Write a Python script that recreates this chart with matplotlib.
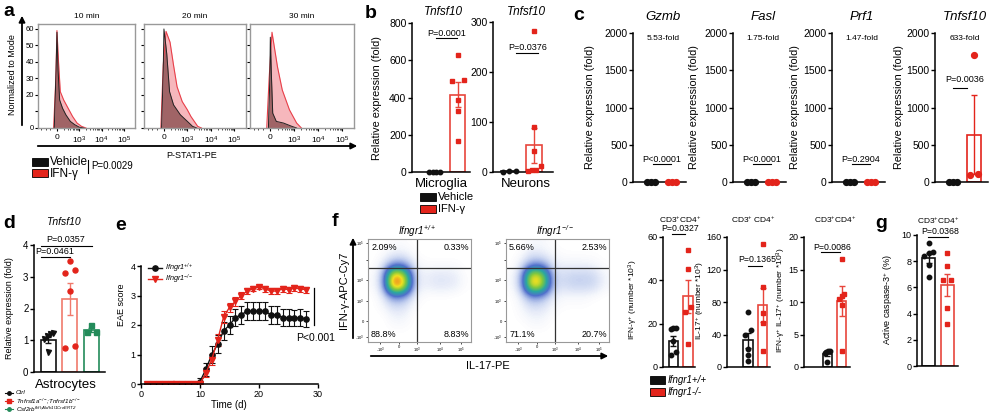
import matplotlib
matplotlib.use("Agg")
import matplotlib.pyplot as plt
import numpy as np
from matplotlib.lines import Line2D
from matplotlib.patches import Rectangle, FancyArrowPatch
from matplotlib.colors import LinearSegmentedColormap
from matplotlib.ticker import FixedLocator

plt.rcParams["font.family"] = ["Liberation Sans", "DejaVu Sans"]
plt.rcParams["mathtext.fontset"] = "custom"
plt.rcParams["mathtext.rm"] = "Liberation Sans"
plt.rcParams["mathtext.it"] = "Liberation Sans:italic"
plt.rcParams["mathtext.bf"] = "Liberation Sans:bold"
plt.rcParams["mathtext.default"] = "regular"

# ── data ──────────────────────────────────────────────────────────────────────
# a: P-STAT1 histograms (x in decade units, 0 = zero, 1 = 10^3 ...)
hist_times = ["10 min", "20 min", "30 min"]
veh_x = [[-0.12, -0.04, 0.0, 0.05, 0.12, 0.25, 0.4, 0.6, 0.8, 1.0, 1.2],
         [-0.1, -0.03, 0.0, 0.12, 0.24, 0.41, 0.7, 1.0, 1.22, 1.4],
         [-0.08, -0.02, 0.0, 0.05, 0.1, 0.25, 0.55, 0.9, 1.1]]
veh_y = [[0, 35, 58, 35, 17, 12, 8, 4, 2, 0.5, 0],
         [0, 35, 60, 45, 22, 14, 8, 4, 1, 0],
         [0, 30, 55, 30, 9, 4, 3, 1, 0]]
ifn_x = [[-0.15, -0.05, 0.0, 0.07, 0.15, 0.3, 0.5, 0.7, 0.9, 1.1, 1.3],
         [-0.13, -0.03, 0.09, 0.26, 0.41, 0.56, 0.78, 1.0, 1.15, 1.44, 1.6],
         [-0.15, -0.05, 0.07, 0.3, 0.5, 0.8, 1.1, 1.3]]
ifn_y = [[0, 30, 59, 40, 22, 17, 12, 7, 3, 1, 0],
         [0, 38, 58.5, 52, 38, 25, 16, 11, 7, 1, 0],
         [0, 30, 58, 37, 23, 11, 3, 0]]

# b: Tnfsf10 in microglia / neurons
micro_pts = [[1, 1, 1, 1], [630, 495, 490, 385, 330, 165]]
micro_mean = [1, 416]
micro_sem = [0.1, 65]
neuro_pts = [[2, 1.5, 1], [282, 90, 42, 12, 5, 4, 3]]
neuro_mean = [1.5, 54]
neuro_sem = [0.3, 35]

# c: T-cell genes
c_genes = ["Gzmb", "Fasl", "Prf1", "Tnfsf10"]
c_fold = ["5.53-fold", "1.75-fold", "1.47-fold", "633-fold"]
c_pvals = ["P<0.0001", "P<0.0001", "P=0.2904", "P=0.0036"]
c_veh = [[1.0, 0.9, 1.1], [1.0, 1.0, 1.0], [1.0, 1.0, 1.0], [1.0, 1.0, 1.0]]
c_ifn = [[5.2, 5.9, 5.5], [1.7, 1.8, 1.75], [1.4, 1.5, 1.5], [1700, 100, 110]]

# d: astrocytes
d_groups = ["Ctrl", "Tnfrsf1a$^{-/-}$;Tnfrsf1b$^{-/-}$", "Csf2rb$^{fl/fl;Aldh1l1CreERT2}$"]
d_pts = [[1.22, 1.2, 1.12, 1.05, 0.62], [3.5, 3.22, 3.13, 2.55, 0.82, 0.76], [1.47, 1.27, 1.25]]
d_mean = [1.0, 2.31, 1.33]
d_sem = [0.1, 0.5, 0.07]

# e: EAE score
days = list(range(1, 29))
wt_score = [0, 0, 0, 0, 0, 0, 0, 0, 0, 0.08, 0.5, 1.0, 1.35, 1.8, 2.0, 2.25, 2.35,
            2.47, 2.47, 2.47, 2.47, 2.35, 2.35, 2.25, 2.25, 2.23, 2.25, 2.2]
wt_err = [0, 0, 0, 0, 0, 0, 0, 0, 0, 0.12, 0.22, 0.3, 0.3, 0.3, 0.3, 0.3, 0.3,
          0.3, 0.3, 0.3, 0.3, 0.3, 0.3, 0.28, 0.28, 0.28, 0.28, 0.28]
ko_score = [0, 0, 0, 0, 0, 0, 0, 0, 0, 0, 0.38, 0.83, 1.5, 2.27, 2.6, 2.8, 3.0,
            3.15, 3.23, 3.29, 3.23, 3.15, 3.15, 3.23, 3.2, 3.26, 3.22, 3.2]
ko_err = [0, 0, 0, 0, 0, 0, 0, 0, 0, 0, 0.15, 0.2, 0.2, 0.2, 0.15, 0.15, 0.12,
          0.1, 0.08, 0.08, 0.1, 0.1, 0.1, 0.1, 0.1, 0.1, 0.1, 0.1]

# f: flow density (rows bottom -> top, 10x10 cells over each plot)
flow_wt = [[0, 0, 0, 0, 0, 0, 0, 0, 0, 0],
           [0, 0, 0.1, 0.1, 0, 0, 0, 0, 0, 0],
           [0, 0, 0.3, 0.3, 0, 0, 0, 0, 0, 0],
           [0, 0.2, 0.7, 0.6, 0.1, 0, 0, 0, 0, 0],
           [0, 0.4, 2.2, 1.8, 0.3, 0.05, 0.05, 0.05, 0, 0],
           [0.1, 1.0, 10, 8, 0.7, 0.3, 0.5, 0.5, 0.4, 0.05],
           [0.1, 1.0, 9, 7, 0.7, 0.3, 0.5, 0.5, 0.4, 0.05],
           [0, 0.4, 1.8, 1.8, 0.3, 0.1, 0.1, 0.1, 0.1, 0],
           [0, 0.1, 0.4, 0.4, 0.1, 0, 0, 0, 0, 0],
           [0, 0, 0.1, 0.1, 0, 0, 0, 0, 0, 0]]
flow_ko = [[0, 0, 0, 0, 0, 0, 0, 0, 0, 0],
           [0, 0, 0.1, 0.1, 0, 0, 0, 0, 0, 0],
           [0, 0.1, 0.3, 0.3, 0.05, 0, 0, 0, 0, 0],
           [0, 0.2, 0.7, 0.6, 0.2, 0.05, 0.05, 0.05, 0, 0],
           [0, 0.4, 2.0, 1.6, 0.4, 0.2, 0.2, 0.2, 0.1, 0],
           [0.1, 1.0, 8.5, 7, 0.9, 0.7, 0.9, 0.9, 0.8, 0.2],
           [0.1, 1.0, 8, 6.5, 0.9, 0.7, 0.9, 0.9, 0.8, 0.2],
           [0, 0.4, 1.8, 1.8, 0.4, 0.3, 0.3, 0.3, 0.2, 0.05],
           [0, 0.1, 0.6, 0.4, 0.2, 0.05, 0.05, 0.05, 0.05, 0],
           [0, 0, 0.2, 0.2, 0.05, 0, 0, 0, 0, 0]]
flow_titles = ["Ifngr1$^{+/+}$", "Ifngr1$^{-/-}$"]
flow_pct = [["2.09%", "0.33%", "88.8%", "8.83%"], ["5.66%", "2.53%", "71.1%", "20.7%"]]

# f: counts
f_titles = ["CD3$^{+}$CD4$^{+}$", "CD3$^{+}$ CD4$^{+}$", "CD3$^{+}$CD4$^{+}$"]
f_ylabels = ["IFN-γ$^{+}$ (number *10$^{3}$)", "IL-17$^{+}$ (number *10$^{3}$)",
             "IFN-γ$^{+}$ IL-17$^{+}$ (number *10$^{3}$)"]
f_pvals = ["P=0.0327", "P=0.1365", "P=0.0086"]
f_ylim = [60, 160, 20]
f_yticks = [[0, 20, 40, 60], [0, 40, 80, 120, 160], [0, 5, 10, 15, 20]]
f_pts = [[[18, 18, 17.5, 12, 7, 5.5], [53.8, 45.4, 27.7, 25.4, 10.8]],
         [[68, 45, 40, 22, 15, 8], [152, 99, 67, 54, 20]],
         [[2.5, 2.4, 2.3, 2.2, 0.8], [16.6, 11.3, 11.0, 10.5, 9.5, 2.5]]]
f_mean = [[12, 32.6], [33, 76], [2.0, 10.1]]
f_sem = [[2.5, 7.6], [9, 21], [0.3, 2.3]]

# g: active caspase-3
g_pts = [[9.4, 8.7, 8.6, 8.4, 7.7, 6.8], [8.6, 7.6, 6.6, 6.6, 4.4, 3.2]]
g_mean = [8.27, 6.17]
g_sem = [0.37, 0.85]

# ── helpers ───────────────────────────────────────────────────────────────────
W, H = 993, 420
BLACK = "#111111"
RED = "#e3241b"
RED_BAR = "#e8463c"
SALMON = "#f07a6c"
GREEN = "#238b5a"

fig = plt.figure(figsize=(W / 100, H / 100), dpi=100)


def box(l, t, r, b):
    return fig.add_axes([l / W, 1 - b / H, (r - l) / W, (b - t) / H])


def txt(x, y, s, **kw):
    kw.setdefault("ha", "center")
    kw.setdefault("va", "center")
    fig.text(x / W, 1 - y / H, s, **kw)


def fline(x0, y0, x1, y1, lw=0.9, color="k"):
    fig.add_artist(Line2D([x0 / W, x1 / W], [1 - y0 / H, 1 - y1 / H],
                          lw=lw, color=color, transform=fig.transFigure))


def farrow(x0, y0, x1, y1):
    fig.add_artist(FancyArrowPatch((x0 / W, 1 - y0 / H), (x1 / W, 1 - y1 / H),
                                   transform=fig.transFigure, arrowstyle="-|>",
                                   mutation_scale=9, lw=1.3, color="k"))


def frect(x, y, w, h, color):
    fig.add_artist(Rectangle((x / W, 1 - (y + h) / H), w / W, h / H,
                             transform=fig.transFigure, fc=color, ec="k", lw=0.6))


def panel_label(x, y, s):
    txt(x, y, s, fontsize=14, fontweight="bold", ha="left")


def swarm_offsets(vals, span, tol):
    vals = np.asarray(vals, dtype=float)
    order = np.argsort(vals)
    offs = np.zeros(len(vals))
    groups, cur = [], [order[0]]
    for i in order[1:]:
        if vals[i] - vals[cur[-1]] < tol:
            cur.append(i)
        else:
            groups.append(cur)
            cur = [i]
    groups.append(cur)
    for g in groups:
        if len(g) > 1:
            offs[g] = np.linspace(-span, span, len(g))
    return offs


def style_bar_ax(ax, ylim, yticks, fs=7):
    ax.spines[["top", "right"]].set_visible(False)
    ax.spines[["left", "bottom"]].set_linewidth(1.1)
    ax.set_ylim(0, ylim)
    ax.set_yticks(yticks)
    ax.set_xticks([])
    ax.tick_params(axis="y", labelsize=fs, length=3, width=1, pad=1)


def bar_group(ax, means, sems, pts, colors, markers, width=0.65, ms=3, span=0.2,
              tol=None, pcolors=None):
    top = ax.get_ylim()[1]
    if tol is None:
        tol = top * 0.04
    if pcolors is None:
        pcolors = colors
    for i, (m, s, p, c, mk, pc) in enumerate(zip(means, sems, pts, colors, markers, pcolors)):
        ax.bar(i, m, width=width, fill=False, edgecolor=c, lw=1.2, zorder=2)
        ax.errorbar(i, m, yerr=s, color=c, capsize=2.5, lw=1, capthick=1, zorder=3)
        offs = swarm_offsets(p, span, tol)
        ax.plot(i + offs, p, mk, color=pc, ms=ms, ls="none", zorder=4, clip_on=False)


# ── a ─────────────────────────────────────────────────────────────────────────
panel_label(3, 11, "a")
hist_boxes = [(38, 135), (144, 246), (250, 354)]
for k, (l, r) in enumerate(hist_boxes):
    ax = box(l, 24, r, 128)
    ax.fill_between(ifn_x[k], ifn_y[k], color="#f08890", alpha=0.6, lw=0)
    ax.plot(ifn_x[k], ifn_y[k], color="#e8404a", lw=0.8)
    ax.fill_between(veh_x[k], veh_y[k], color="#5a2020", alpha=0.55, lw=0)
    ax.plot(veh_x[k], veh_y[k], color="#222222", lw=0.7)
    ax.set_xlim(-0.85, 3.5)
    ax.set_ylim(0, 63)
    for sp in ax.spines.values():
        sp.set_color("#999999")
        sp.set_linewidth(1)
    ax.set_xticks([0, 1, 2, 3])
    ax.set_xticklabels(["0", "10$^{3}$", "10$^{4}$", "10$^{5}$"], fontsize=6)
    minors = [d + np.log10(j) for d in range(3) for j in range(2, 10)] + [-0.3, -0.5, -0.7]
    ax.xaxis.set_minor_locator(FixedLocator(minors))
    ax.tick_params(axis="x", which="major", length=2.5, width=0.8, pad=2)
    ax.tick_params(axis="x", which="minor", length=1.5, width=0.5)
    ax.set_yticks([0, 10, 20, 30, 40, 50, 60])
    if k == 0:
        ax.set_yticklabels(["0", "", "20", "30", "40", "50", "60"], fontsize=5.5)
    else:
        ax.set_yticklabels([])
    ax.tick_params(axis="y", length=2, width=0.8, pad=1)
    txt((l + r) / 2, 16, hist_times[k], fontsize=6)

farrow(22, 128, 22, 13)
txt(13, 75, "Normalized to Mode", fontsize=6.5, rotation=90)
farrow(35, 146, 360, 146)
txt(192, 156, "P-STAT1-PE", fontsize=6.5)
frect(32, 158, 16, 8, BLACK)
txt(50, 162, "Vehicle", fontsize=8.5, ha="left")
frect(32, 169, 16, 8, RED)
txt(50, 174, "IFN-γ", fontsize=8.5, ha="left")
fline(88, 160, 88, 173, lw=0.8)
txt(91, 166, "P=0.0029", fontsize=7, ha="left")

# ── b ─────────────────────────────────────────────────────────────────────────
panel_label(365, 13, "b")
txt(377, 98, "Relative expression (fold)", fontsize=7.8, rotation=90)

ax = box(412, 23, 470, 172)
style_bar_ax(ax, 800, [0, 200, 400, 600, 800], fs=7.5)
ax.set_xlim(-0.97, 1.53)
bar_group(ax, micro_mean, micro_sem, micro_pts, [BLACK, RED_BAR], ["o", "s"],
          width=0.64, ms=3.2, span=0.25, pcolors=[BLACK, RED])
txt(443, 12, "Tnfsf10", fontsize=8.5, style="italic")
txt(441, 184, "Microglia", fontsize=9.5)
txt(447, 33, "P=0.0001", fontsize=6.5)
fline(436, 38, 457, 38, lw=0.8)

ax = box(493, 22, 553, 172)
style_bar_ax(ax, 300, [0, 100, 200, 300], fs=7.5)
ax.set_xlim(-0.65, 1.75)
bar_group(ax, neuro_mean, neuro_sem, neuro_pts, [BLACK, RED_BAR], ["o", "s"],
          width=0.64, ms=3.2, span=0.25, tol=10, pcolors=[BLACK, RED])
txt(526, 12, "Tnfsf10", fontsize=8.5, style="italic")
txt(526, 184, "Neurons", fontsize=9.5)
txt(528, 48, "P=0.0376", fontsize=6.5)
fline(516, 53, 538, 53, lw=0.8)

frect(420, 193, 16, 8, BLACK)
txt(438, 197, "Vehicle", fontsize=8, ha="left")
frect(420, 205, 16, 8, RED)
txt(438, 209, "IFN-γ", fontsize=8, ha="left")

# ── c ─────────────────────────────────────────────────────────────────────────
panel_label(573, 15, "c")
c_left = [633, 733, 832, 935]
c_ylab = [590, 694, 795, 899]
for k, gene in enumerate(c_genes):
    l = c_left[k]
    ax = box(l, 33, l + 53, 182)
    style_bar_ax(ax, 2000, [0, 500, 1000, 1500, 2000], fs=7.5)
    ax.set_xlim(-0.9, 1.7)
    pts = [c_veh[k], c_ifn[k]]
    means = [float(np.mean(p)) for p in pts]
    sems = [float(np.std(p, ddof=1) / np.sqrt(len(p))) for p in pts]
    bar_group(ax, means, sems, pts, [BLACK, RED], ["o", "o"], width=0.7,
              ms=4.2, span=0.2, tol=60)
    cx = l + 27
    txt(cx + 3, 17, gene, fontsize=9.5, style="italic")
    txt(cx + 3, 38, c_fold[k], fontsize=6)
    txt(c_ylab[k], 107, "Relative expression (fold)", fontsize=7.8, rotation=90)
    if k < 3:
        txt(cx + 2, 159, c_pvals[k], fontsize=6.5)
        fline(cx - 7, 164, cx + 11, 164, lw=0.8)
    else:
        txt(cx + 3, 80, c_pvals[k], fontsize=6.5)
        fline(cx - 9, 88, cx + 5, 88, lw=0.8)

# ── d ─────────────────────────────────────────────────────────────────────────
panel_label(3, 224, "d")
txt(63, 222, "Tnfsf10", fontsize=7.5, style="italic")
ax = box(34, 245, 105, 372)
style_bar_ax(ax, 4, [0, 1, 2, 3, 4], fs=7)
ax.set_xlim(-0.67, 2.63)
bar_group(ax, d_mean, d_sem, d_pts, [BLACK, SALMON, GREEN], ["v", "o", "s"],
          width=0.7, ms=3.6, span=0.22, tol=0.12, pcolors=[BLACK, RED, GREEN])
txt(10, 308, "Relative expression (fold)", fontsize=6.5, rotation=90)
txt(66, 385, "Astrocytes", fontsize=9.5)
txt(66, 240, "P=0.0357", fontsize=6.5)
fline(41, 246, 92, 246, lw=0.8)
txt(55, 251, "P=0.0461", fontsize=6.5)
fline(41, 257, 70, 257, lw=0.8)
for k, (name, c, mk) in enumerate(zip(d_groups, [BLACK, RED, GREEN], ["o", "s", "o"])):
    yy = 393 + k * 8
    fline(5, yy, 13, yy, lw=0.8, color=c)
    fig.add_artist(Line2D([9 / W], [1 - yy / H], marker=mk, color=c, ms=2.5,
                          transform=fig.transFigure))
    txt(16, yy, name, fontsize=4.5, ha="left", style="italic")

# ── e ─────────────────────────────────────────────────────────────────────────
panel_label(115, 226, "e")
ax = box(141, 266, 318, 384)
ax.spines[["top", "right"]].set_visible(False)
ax.spines[["left", "bottom"]].set_linewidth(1.1)
ax.errorbar(days, wt_score, yerr=wt_err, color=BLACK, marker="o", ms=3.8,
            lw=1, capsize=2, capthick=0.8, elinewidth=0.8)
ax.errorbar(days, ko_score, yerr=ko_err, color=RED, marker="v", ms=3.8,
            lw=1, capsize=2, capthick=0.8, elinewidth=0.8)
ax.set_xlim(0, 30)
ax.set_ylim(0, 4)
ax.set_xticks([0, 10, 20, 30])
ax.set_yticks([0, 1, 2, 3, 4])
ax.tick_params(labelsize=6.5, length=3, width=1, pad=1)
txt(122, 305, "EAE score", fontsize=6.5, rotation=90)
txt(229, 405, "Time (d)", fontsize=7)
fline(314, 288, 314, 325, lw=0.9)
txt(296, 338, "P<0.001", fontsize=7.5, ha="left")
for k, (name, c, mk) in enumerate(zip(flow_titles, [BLACK, RED], ["o", "v"])):
    yy = 268 + k * 11
    fline(148, yy, 162, yy, lw=1, color=c)
    fig.add_artist(Line2D([155 / W], [1 - yy / H], marker=mk, color=c, ms=3.8,
                          transform=fig.transFigure))
    txt(165, yy, name, fontsize=5.2, ha="left", style="italic")

# ── f: flow plots ─────────────────────────────────────────────────────────────
panel_label(332, 222, "f")
flow_cmap = LinearSegmentedColormap.from_list(
    "flow", [(0, "white"), (0.02, "#f5f7fc"), (0.09, "#c6d2f0"), (0.25, "#5070cc"),
             (0.42, "#2aa8a0"), (0.58, "#80c840"), (0.72, "#f0e020"), (0.86, "#f08020"),
             (1, "#e02020")])
for k, (l, r) in enumerate([(368, 471), (506, 609)]):
    ax = box(l, 239, r, 342)
    grid = np.array([flow_wt, flow_ko][k])
    ax.imshow(grid, extent=(0, 1, 0, 1), origin="lower", aspect="auto",
              interpolation="bicubic", cmap=flow_cmap, vmin=0, vmax=10)
    ax.axvline(0.48, color="#333333", lw=0.9)
    ax.axhline(0.72, color="#333333", lw=0.9)
    ax.set_xlim(0, 1)
    ax.set_ylim(0, 1)
    for sp in ax.spines.values():
        sp.set_color("#999999")
    ax.set_xticks([0.12, 0.3, 0.48, 0.7, 0.9])
    ax.set_xticklabels(["-10$^{3}$", "0", "10$^{3}$", "10$^{4}$", "10$^{5}$"], fontsize=3)
    ax.set_yticks([0.05, 0.2, 0.4, 0.6, 0.8, 0.96])
    ax.set_yticklabels(["-10$^{3}$", "0", "10$^{3}$", "10$^{4}$", "", "10$^{5}$"], fontsize=3)
    ax.tick_params(length=1.5, width=0.5, pad=1)
    p = flow_pct[k]
    ax.text(0.03, 0.96, p[0], fontsize=6.5, ha="left", va="top", transform=ax.transAxes)
    ax.text(0.98, 0.96, p[1], fontsize=6.5, ha="right", va="top", transform=ax.transAxes)
    ax.text(0.03, 0.03, p[2], fontsize=6.5, ha="left", va="bottom", transform=ax.transAxes)
    ax.text(0.98, 0.03, p[3], fontsize=6.5, ha="right", va="bottom", transform=ax.transAxes)
    txt((l + r) / 2 - 3, 231, flow_titles[k], fontsize=7, style="italic")

farrow(353, 341, 353, 235)
txt(344, 290, "IFN-γ-APC-Cy7", fontsize=8, rotation=90)
farrow(368, 356, 611, 356)
txt(488, 366, "IL-17-PE", fontsize=8)

# ── f: counts ─────────────────────────────────────────────────────────────────
f_boxes = [(663, 695, -0.72, 1.48), (727, 770, -1.45, 1.5), (804, 850, -1.65, 1.6)]
f_ylab_x = [633, 700, 781]
f_title_x = [680, 753, 835]
f_p_y = [229, 259, 247]
f_line = [(672, 685, 234), (748, 762, 266), (821, 840, 252)]
for k, (l, r, a, b) in enumerate(f_boxes):
    ax = box(l, 237, r, 367)
    style_bar_ax(ax, f_ylim[k], f_yticks[k], fs=6.5)
    ax.set_xlim(a, b)
    bar_group(ax, f_mean[k], f_sem[k], f_pts[k], [BLACK, RED_BAR], ["o", "s"],
              width=0.65, ms=3.2, span=0.2, pcolors=[BLACK, RED])
    txt(f_title_x[k], 220, f_titles[k], fontsize=6)
    txt(f_ylab_x[k], 300, f_ylabels[k], fontsize=6, rotation=90)
    x0, x1, yl = f_line[k]
    txt((x0 + x1) / 2 + 2, f_p_y[k], f_pvals[k], fontsize=6.3)
    fline(x0, yl, x1, yl, lw=0.8)

frect(650, 376, 15, 8, BLACK)
txt(668, 380, "Ifngr1+/+", fontsize=7, ha="left", style="italic")
frect(650, 388, 15, 8, RED)
txt(668, 392, "Ifngr1-/-", fontsize=7, ha="left", style="italic")

# ── g ─────────────────────────────────────────────────────────────────────────
panel_label(875, 223, "g")
ax = box(917, 235, 958, 366)
style_bar_ax(ax, 10, [0, 2, 4, 6, 8, 10], fs=6.5)
ax.set_xlim(-0.62, 1.59)
bar_group(ax, g_mean, g_sem, g_pts, [BLACK, RED_BAR], ["o", "s"],
          width=0.7, ms=3.2, span=0.22, tol=0.35, pcolors=[BLACK, RED])
txt(938, 221, "CD3$^{+}$CD4$^{+}$", fontsize=6)
txt(940, 231, "P=0.0368", fontsize=6.3)
fline(928, 237, 948, 237, lw=0.8)
txt(888, 300, "Active caspase-3$^{+}$ (%)", fontsize=6.5, rotation=90)

fig.savefig("out.png", dpi=100)
